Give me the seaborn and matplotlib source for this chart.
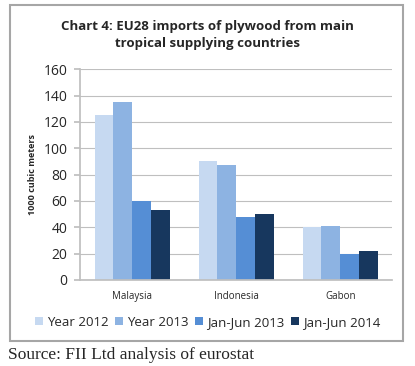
import matplotlib

matplotlib.use("Agg")
import matplotlib.pyplot as plt
import pandas as pd
import seaborn as sns
from matplotlib.patches import Rectangle

# values (1000 cubic meters)
countries = ["Malaysia", "Indonesia", "Gabon"]
periods = ["Year 2012", "Year 2013", "Jan-Jun 2013", "Jan-Jun 2014"]
year_2012 = [125, 90, 40]
year_2013 = [135, 87, 41]
h1_2013 = [60, 48, 20]
h1_2014 = [53, 50, 22]

palette = ["#C6D9F1", "#8DB3E2", "#558ED5", "#17375E"]

df = pd.DataFrame(
    {
        "country": countries * 4,
        "period": [p for p in periods for _ in countries],
        "value": year_2012 + year_2013 + h1_2013 + h1_2014,
    }
)

sns.set_theme(style="white")
plt.rcParams["font.family"] = ["Open Sans", "DejaVu Sans"]

fig = plt.figure(figsize=(4.15, 3.66), dpi=100)
ax = fig.add_axes([0.193, 0.235, 0.752, 0.576])

sns.barplot(
    data=df,
    x="country",
    y="value",
    hue="period",
    hue_order=periods,
    palette=palette,
    width=0.72,
    gap=0,
    saturation=1,
    edgecolor="none",
    legend=True,
    ax=ax,
)

ax.set_ylim(0, 160)
ax.set_yticks(range(0, 161, 20))
ax.yaxis.grid(True, color="#BFBFBF", linewidth=0.8)
ax.set_axisbelow(True)
for side in ["top", "right"]:
    ax.spines[side].set_visible(False)
ax.spines["left"].set_color("#BFBFBF")
ax.spines["bottom"].set_color("#BFBFBF")
ax.tick_params(axis="y", labelsize=10, length=4, color="#BFBFBF", left=True, pad=5)
ax.tick_params(axis="x", labelsize=7, length=0, pad=8)
ax.set_xlabel("")
ax.set_ylabel("1000 cubic meters", fontsize=6.5, fontweight="bold", labelpad=5)

handles, labels = ax.get_legend_handles_labels()
ax.get_legend().remove()
fig.legend(
    handles,
    labels,
    loc="center",
    bbox_to_anchor=(0.5, 0.12),
    ncol=4,
    frameon=False,
    fontsize=9.5,
    handlelength=0.6,
    handleheight=0.6,
    handletextpad=0.3,
    columnspacing=0.5,
)

fig.text(
    0.5,
    0.905,
    "Chart 4: EU28 imports of plywood from main\ntropical supplying countries",
    ha="center",
    va="center",
    fontsize=9.5,
    fontweight="bold",
    linespacing=1.4,
)

fig.patches.append(
    Rectangle(
        (10 / 415, 1 - 341 / 366),
        393 / 415,
        336 / 366,
        transform=fig.transFigure,
        fill=False,
        edgecolor="#A6A6A6",
        linewidth=1.5,
    )
)

fig.text(
    0.02,
    0.03,
    "Source: FII Ltd analysis of eurostat",
    ha="left",
    va="center",
    fontsize=12.5,
    family=["Liberation Serif", "DejaVu Serif"],
)

fig.savefig("out.png", dpi=100)
